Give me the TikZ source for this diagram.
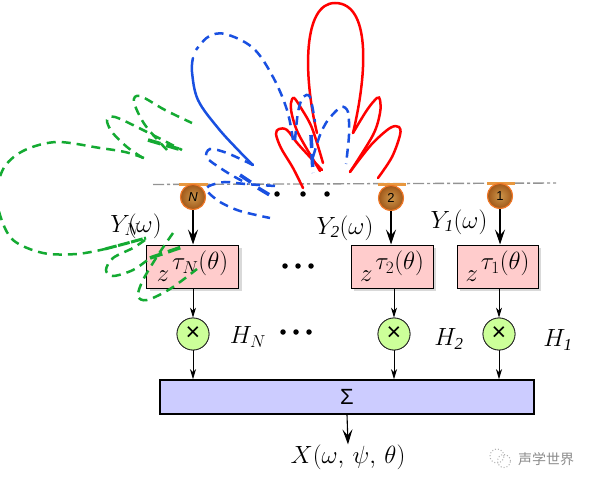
\documentclass[tikz,border=0pt]{standalone}
\usepackage{fontspec}
\setmainfont{Liberation Serif}
\newfontfamily\sansf{Liberation Sans}
\newfontfamily\cjkf{Noto Sans CJK SC}
\usetikzlibrary{arrows.meta,shadows}
\definecolor{boxpink}{RGB}{255,204,204}
\definecolor{boxblue}{RGB}{204,204,255}
\definecolor{crossgreen}{RGB}{204,255,153}
\definecolor{bar}{RGB}{232,152,64}
\definecolor{ballrim}{RGB}{240,120,40}
\definecolor{ballin}{RGB}{205,150,75}
\definecolor{ballout}{RGB}{160,88,25}
\definecolor{lobered}{RGB}{255,0,0}
\definecolor{lobeblue}{RGB}{25,80,225}
\definecolor{lobegreen}{RGB}{20,170,50}
\newcommand{\delaylabel}[1]{\raisebox{-4pt}{\fontsize{25}{25}\selectfont$z$}\raisebox{8pt}{\fontsize{24}{24}\selectfont$\mkern2mu#1(\theta)$}}
\newcommand{\crosslabel}{\sansf\fontsize{25}{25}\selectfont ×}
\tikzset{
  delaybox/.style={draw=black,line width=1pt,fill=boxpink,minimum height=43pt,inner sep=0pt,anchor=center,
    drop shadow={shadow xshift=3pt,shadow yshift=-3pt,fill=black!15,opacity=1}},
  sumbox/.style={draw=black,line width=1.6pt,fill=boxblue,minimum width=374pt,minimum height=34pt,inner sep=0pt},
  crossc/.style={circle,draw=black!85,line width=.8pt,fill=crossgreen,minimum size=32pt,inner sep=0pt},
  mic/.style={circle,draw=ballrim,line width=1pt,inner color=ballin,outer color=ballout,minimum size=25pt,inner sep=0pt,font=\sansf\fontsize{13}{13}\selectfont},
  micbar/.style={draw=bar,line width=2.6pt},
  flowa/.style={-{Stealth[length=15pt,width=10pt,inset=6pt]},line width=1.1pt},
  flowb/.style={-{Stealth[length=10pt,width=6pt,inset=3pt]},line width=.9pt},
  lab/.style={inner sep=0pt,font=\fontsize{24}{24}\selectfont},
  lobe/.style={line width=2.5pt,line cap=round},
  lobedash/.style={line width=2.5pt,dash pattern=on 9pt off 6pt},
  thick lobe/.style={line width=3.6pt,dash pattern=on 13pt off 6pt},
  dotsm/.style={circle,fill=black,inner sep=0pt,minimum size=5.5pt},
}
\begin{document}
\begin{tikzpicture}[x=1pt,y=-1pt]
\clip (0,0) rectangle (592,484);
\fill[white] (0,0) rectangle (592,484);
% baseline
\draw[gray!85,line width=1.4pt,dash pattern=on 11pt off 3pt on 3pt off 3pt] (153,184.5) -- (556,183);
\draw[micbar] (179,184.5) -- (208,184.5);
\draw[micbar] (378,184.5) -- (406,184.5);
\draw[micbar] (487,183.5) -- (515,183.5);
% nodes
\node[mic] (mN) at (193,197) {\itshape N};
\node[mic] (m2) at (391,198) {2};
\node[mic] (m1) at (500,196) {1};
\node[delaybox,minimum width=92pt] (bN) at (192.5,266.5) {\delaylabel{\tau_{N}}};
\node[delaybox,minimum width=82pt] (b2) at (392,266.5) {\delaylabel{\tau_{2}}};
\node[delaybox,minimum width=81pt] (b1) at (497.5,266.5) {\delaylabel{\tau_{1}}};
\node[crossc] (cN) at (193,334) {\crosslabel};
\node[crossc] (c2) at (394,334) {\crosslabel};
\node[crossc] (c1) at (499,334) {\crosslabel};
\node[sumbox] (sum) at (347,397) {\sansf\fontsize{22}{22}\selectfont Σ};
\node[lab] (out) at (348,457) {$X(\omega,\,\psi,\,\theta)$};
% connectors
\draw[flowa] (mN) -- (mN |- bN.north);
\draw[flowa] (m2) -- (m2 |- b2.north);
\draw[flowa] (m1) -- (m1 |- b1.north);
\draw[flowb] (cN |- bN.south) -- (cN);
\draw[flowb] (c2 |- b2.south) -- (c2);
\draw[flowb] (c1 |- b1.south) -- (c1);
\draw[flowb] (cN) -- (cN |- sum.north);
\draw[flowb] (c2) -- (c2 |- sum.north);
\draw[flowb] (c1) -- (c1 |- sum.north);
\draw[flowa] (sum.south) -- (out.north);
% redraw circles over connector starts
\node[mic] at (mN) {\itshape N};
\node[mic] at (m2) {2};
\node[mic] at (m1) {1};
\node[crossc] at (cN) {\crosslabel};
\node[crossc] at (c2) {\crosslabel};
\node[crossc] at (c1) {\crosslabel};
% labels
\node[lab] (yN) at (136,226) {$Y_{N}\mkern-9mu(\omega)$};
\node[lab] (y2) at (345,228) {$Y_{\mathit{2}}(\omega)$};
\node[lab] (y1) at (459,222) {$Y_{\mathit{1}}(\omega)$};
\node[lab] (hN) at (248,337) {$H_N$};
\node[lab] (h2) at (449,339) {$H_{\mathit{2}}$};
\node[lab] (h1) at (558,340) {$H_{\mathit{1}}$};
% dots
\foreach \n/\x/\y in {a/277/194,b/303/194,c/327/194,d/285/266,e/298/266,f/311/266,g/283/332,h/296/332,i/309/332}
  \node[dotsm] (dot\n) at (\x,\y) {};
% red lobes
\draw[lobered,lobe] plot[smooth,tension=.55] coordinates {(303,188) (293,168) (281,148) (276,134) (279,129) (287,130) (298,144) (322,170)};
\draw[lobered,lobe] plot[smooth,tension=.55] coordinates {(323,163) (312,128) (301,108) (294,98) (291,103) (292,115) (299,135) (320,171)};
\draw[lobered,lobe] (317,133) .. controls (303,75) and (303,3) .. (335,3) .. controls (370,3) and (368,70) .. (353,133);
\draw[lobered,lobe] plot[smooth,tension=.55] coordinates {(353,133) (367,110) (377,98) (380,100) (380,113) (373,135) (350,172)};
\draw[lobered,lobe] plot[smooth,tension=.55] coordinates {(350,172) (371,145) (390,128) (399,127) (400,135) (392,157) (378,178)};
% blue lobes
\draw[lobeblue,lobedash] plot[smooth,tension=.6] coordinates {(293,140) (287,110) (273,77) (253,48) (225,34) (208,37) (196,50)};
\draw[lobeblue,lobe] plot[smooth,tension=.6] coordinates {(193,58) (192,72) (198,100) (218,128) (240,152) (253,165)};
\draw[lobeblue,lobedash] plot[smooth,tension=.5] coordinates {(253,165) (227,153) (210,149) (207,158) (228,173) (248,184)};
\draw[lobeblue,thick lobe] (240,175) -- (255,185);
\draw[lobeblue,thick lobe] (258,188) -- (273,197);
\draw[lobeblue,lobedash] plot[smooth,tension=.5] coordinates {(275,186) (245,184) (225,182) (209,186) (207,191) (220,202) (240,211) (270,218)};
\draw[lobeblue,lobedash] plot[smooth,tension=.5] coordinates {(295,140) (298,112) (303,97) (310,97) (315,122)};
\draw[lobeblue,thick lobe] (311,135) -- (313,173);
\draw[lobeblue,lobedash] plot[smooth,tension=.5] coordinates {(313,157) (320,135) (328,120) (341,107) (348,112) (349,135) (346,164)};
% green lobes
\draw[lobegreen,lobedash] plot[smooth,tension=.55] coordinates {(144,158) (125,152) (100,148) (57,142) (25,150) (5,166) (-3,190) (0,215) (13,240) (43,253) (77,254) (105,249)};
\draw[lobegreen,line width=3pt,dash pattern=on 12pt off 1.5pt] (105,249) -- (124,244) -- (146,238);
\draw[lobegreen,lobedash] plot[smooth,tension=.55] coordinates {(143,158) (127,147) (112,132) (107,120) (115,117) (143,130) (182,150)};
\draw[lobegreen,lobedash] plot[smooth,tension=.55] coordinates {(167,150) (145,125) (134,102) (140,96) (165,110) (192,123)};
\draw[lobegreen,thick lobe] (148,140) -- (182,150);
\draw[lobegreen,lobedash] plot[smooth,tension=.55] coordinates {(145,240) (133,248) (113,258) (106,270) (113,276) (133,270) (150,258)};
\draw[lobegreen,thick lobe] (150,258) -- (182,247);
\draw[lobegreen,lobedash] plot[smooth,tension=.55] coordinates {(173,233) (158,255) (143,280) (138,296) (147,300) (170,289) (197,269)};
% watermark
\node[inner sep=0pt,text=black!45,font=\cjkf\fontsize{14}{14}\selectfont] (wm) at (546,459) {声学世界};
\draw[black!30,line width=1pt,dotted] (497,456) circle (7pt);
\draw[black!30,line width=1pt,dotted] (504,461) circle (6.5pt);
\end{tikzpicture}
\end{document}
